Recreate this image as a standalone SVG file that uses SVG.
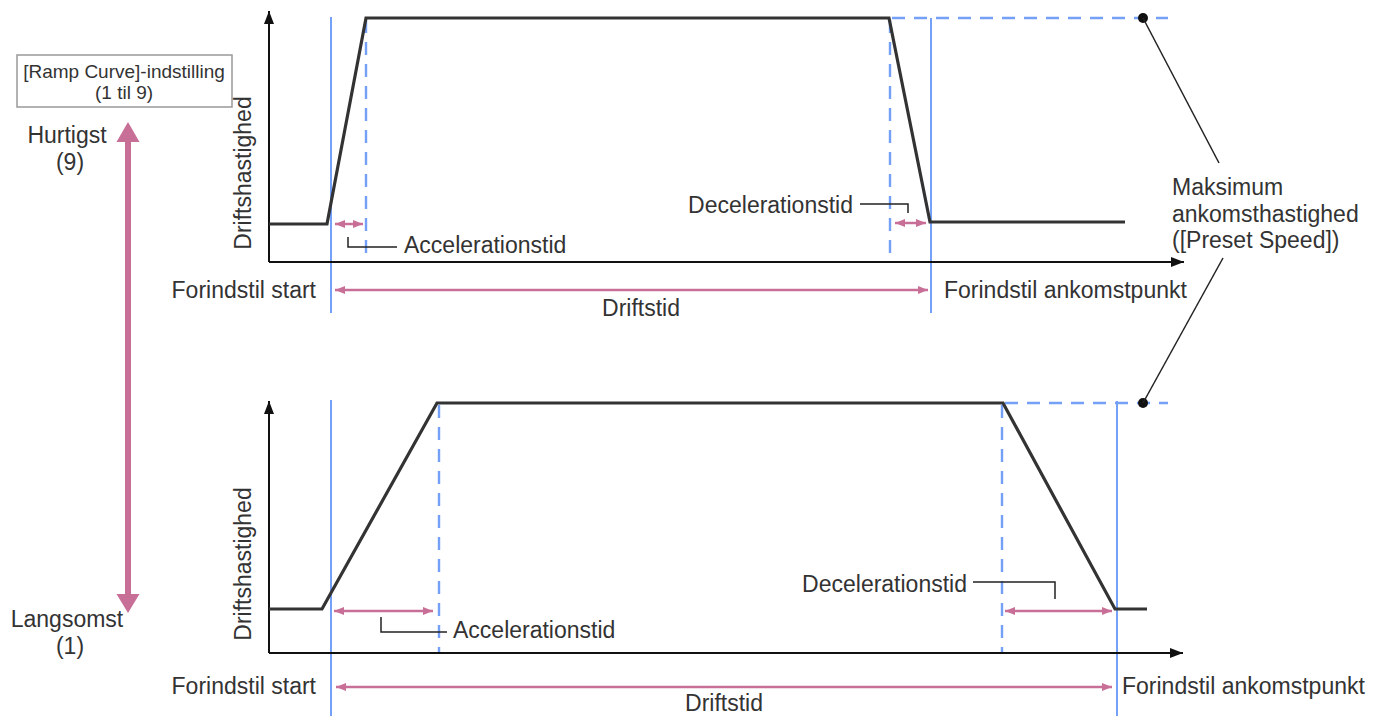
<svg xmlns="http://www.w3.org/2000/svg" width="1383" height="722" viewBox="0 0 1383 722">
<style>
text{font-family:"Liberation Sans",Arial,sans-serif;fill:#333;font-size:23px}
.sm{font-size:19px}
.axis{stroke:#111;stroke-width:2;fill:none}
.curve{stroke:#333;stroke-width:3.2;fill:none;stroke-linejoin:miter}
.bs{stroke:#74a0f7;stroke-width:2;fill:none}
.bd{stroke:#74a0f7;stroke-width:2.4;fill:none;stroke-dasharray:13 9}
.pk{stroke:#c86f98;stroke-width:2.5;fill:none}
.ld{stroke:#222;stroke-width:1.5;fill:none}
</style>
<defs>
<marker id="ax" markerUnits="userSpaceOnUse" markerWidth="14" markerHeight="12" refX="13" refY="5" orient="auto"><path d="M0,0 L13,5 L0,10 z" fill="#111"/></marker>
<marker id="pa" markerUnits="userSpaceOnUse" markerWidth="12" markerHeight="10" refX="10" refY="4" orient="auto-start-reverse"><path d="M0,0 L10,4 L0,8 z" fill="#c86f98"/></marker>
</defs>
<rect width="1383" height="722" fill="#fff"/>

<g id="setting-box">
<rect x="17" y="55" width="215" height="52" fill="#fff" stroke="#999" stroke-width="1.5"/>
<text class="sm" x="124" y="78" text-anchor="middle">[Ramp Curve]-indstilling</text>
<text class="sm" x="124" y="99" text-anchor="middle">(1 til 9)</text>
</g>

<g id="speed-scale">
<text x="67" y="143" text-anchor="middle">Hurtigst</text>
<text x="70" y="170" text-anchor="middle">(9)</text>
<text x="67" y="627" text-anchor="middle">Langsomst</text>
<text x="70" y="654" text-anchor="middle">(1)</text>
<line x1="128" y1="138" x2="128" y2="597" stroke="#c86f98" stroke-width="6"/>
<polygon points="128,122 116.5,142 139.5,142" fill="#c86f98"/>
<polygon points="128,613 116.5,594 139.5,594" fill="#c86f98"/>
</g>

<g id="chart-fast">
<line class="bd" x1="366" y1="20" x2="366" y2="262"/>
<line class="bd" x1="890" y1="20" x2="890" y2="262"/>
<line class="bd" x1="892" y1="18" x2="1168" y2="18"/>
<line class="bs" x1="331" y1="17" x2="331" y2="313"/>
<line class="bs" x1="931" y1="18" x2="931" y2="313"/>
<line class="axis" x1="269" y1="262" x2="269" y2="11" marker-end="url(#ax)"/>
<line class="axis" x1="269" y1="262" x2="1184" y2="262" marker-end="url(#ax)"/>
<polyline class="curve" points="269,224 327,224 366,18 889,18 930,222 1125,222"/>
<circle cx="1143" cy="18" r="5" fill="#111"/>
<text transform="translate(251,173) rotate(-90)" text-anchor="middle">Driftshastighed</text>
<text x="316" y="298" text-anchor="end">Forindstil start</text>
<text x="944" y="298">Forindstil ankomstpunkt</text>
<text x="641" y="316" text-anchor="middle">Driftstid</text>
<text x="404" y="253">Accelerationstid</text>
<text x="853" y="213" text-anchor="end">Decelerationstid</text>
</g>

<g id="chart-slow">
<line class="bd" x1="439" y1="405" x2="439" y2="653"/>
<line class="bd" x1="1002" y1="405" x2="1002" y2="653"/>
<line class="bd" x1="1005" y1="403" x2="1168" y2="403"/>
<line class="bs" x1="331" y1="400" x2="331" y2="716"/>
<line class="bs" x1="1117" y1="401" x2="1117" y2="716"/>
<line class="axis" x1="269" y1="653" x2="269" y2="401" marker-end="url(#ax)"/>
<line class="axis" x1="269" y1="653" x2="1183" y2="653" marker-end="url(#ax)"/>
<polyline class="curve" points="269,609 322,609 437,403 1003,403 1115,609 1147,609"/>
<circle cx="1143" cy="403" r="5" fill="#111"/>
<text transform="translate(251,564) rotate(-90)" text-anchor="middle">Driftshastighed</text>
<text x="316" y="694" text-anchor="end">Forindstil start</text>
<text x="1122" y="694">Forindstil ankomstpunkt</text>
<text x="724" y="711" text-anchor="middle">Driftstid</text>
<text x="453" y="638">Accelerationstid</text>
<text x="967" y="592" text-anchor="end">Decelerationstid</text>
</g>

<g id="max-speed-label">
<text x="1172" y="195">Maksimum</text>
<text x="1172" y="222">ankomsthastighed</text>
<text x="1172" y="248">([Preset Speed])</text>
</g>

<g id="connectors">
<line class="pk" x1="335" y1="224" x2="363" y2="224" marker-start="url(#pa)" marker-end="url(#pa)"/>
<line class="pk" x1="895" y1="223" x2="926" y2="223" marker-start="url(#pa)" marker-end="url(#pa)"/>
<line class="pk" x1="335" y1="290" x2="928" y2="290" marker-start="url(#pa)" marker-end="url(#pa)"/>
<line class="pk" x1="334" y1="611" x2="433" y2="611" marker-start="url(#pa)" marker-end="url(#pa)"/>
<line class="pk" x1="1005" y1="611" x2="1112" y2="611" marker-start="url(#pa)" marker-end="url(#pa)"/>
<line class="pk" x1="336" y1="687" x2="1112" y2="687" marker-start="url(#pa)" marker-end="url(#pa)"/>
<polyline class="ld" points="348,237 348,247 397,247"/>
<polyline class="ld" points="860,204 908,204 908,213"/>
<polyline class="ld" points="381,617 381,632 447,632"/>
<polyline class="ld" points="973,582 1055,582 1055,599"/>
<line class="ld" x1="1143" y1="18" x2="1219" y2="163"/>
<line class="ld" x1="1223" y1="258" x2="1143" y2="403"/>
</g>
</svg>
